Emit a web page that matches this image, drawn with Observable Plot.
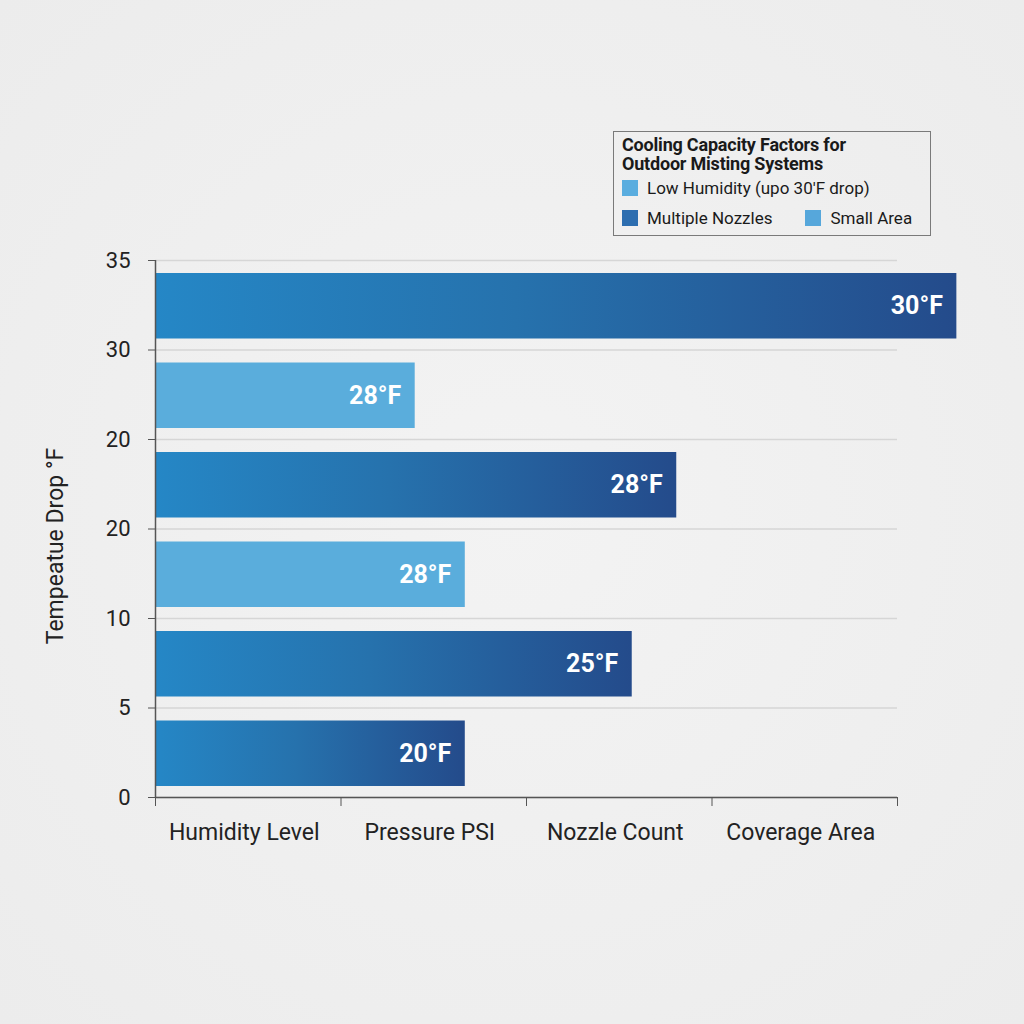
<!DOCTYPE html>
<html>
<head>
<meta charset="utf-8">
<script src="https://cdn.jsdelivr.net/npm/d3@7"></script>
<script src="https://cdn.jsdelivr.net/npm/@observablehq/plot@0.6"></script>
<style>
  html, body { margin: 0; padding: 0; background: #efefef; }
  #wrap { position: relative; width: 1024px; height: 1024px; background: radial-gradient(ellipse at center, #f3f3f3 0%, #ececec 100%); font-family: Roboto, "Noto Sans", sans-serif; }
  #legend { position: absolute; left: 613px; top: 131px; width: 318px; height: 105px; border: 1.5px solid #7a7a7a; box-sizing: border-box; padding: 3px 8px; color: #1a1a1a; }
  #legend .title { font-weight: 700; font-size: 18px; line-height: 19px; letter-spacing: -0.2px; }
  #legend .row { display: flex; align-items: center; font-size: 17px; margin-top: 5px; }
  #legend .sw { width: 16px; height: 16px; display: inline-block; margin-right: 9px; }
  #legend .item { display: inline-flex; align-items: center; }
</style>
</head>
<body>
<div id="wrap"><div id="chart"></div><div id="legend"></div></div>
<script>
// ---- data ----
const categories = ["Humidity Level", "Pressure PSI", "Nozzle Count", "Coverage Area"];
const yTickLabels = ["0", "5", "10", "20", "20", "30", "35"];
const barLabels = ["30°F", "28°F", "28°F", "28°F", "25°F", "20°F"];
const barLengths = [4.32, 1.40, 2.81, 1.67, 2.57, 1.67];
const barKinds = ["dark", "light", "dark", "light", "dark", "dark"];
const barSlots = [5, 4, 3, 2, 1, 0];
const legendTitle = "Cooling Capacity Factors for Outdoor Misting Systems";
const legendItems = [
  {label: "Low Humidity (upo 30'F drop)", color: "#5aaddf"},
  {label: "Multiple Nozzles", color: "#2d6eb0"},
  {label: "Small Area", color: "#56a7db"}
];

const bars = barLabels.map((l, i) => ({label: l, value: barLengths[i], kind: barKinds[i], slot: barSlots[i]}));

const defs = () => {
  const d = d3.create("svg:defs");
  const g = d.append("linearGradient").attr("id", "darkGrad").attr("x1", "0").attr("x2", "1").attr("y1", "0").attr("y2", "0");
  g.append("stop").attr("offset", "0%").attr("stop-color", "#2587c6");
  g.append("stop").attr("offset", "45%").attr("stop-color", "#2672ad");
  g.append("stop").attr("offset", "100%").attr("stop-color", "#244b8b");
  return d.node();
};

const chart = Plot.plot({
  width: 1024,
  height: 1024,
  marginLeft: 155,
  marginRight: 127,
  marginTop: 260,
  marginBottom: 227,
  style: {background: "transparent", fontFamily: "Roboto, sans-serif", color: "#222"},
  x: {domain: [0, 4]},
  y: {domain: [0, 6]},
  marks: [
    defs,
    Plot.gridY({ticks: d3.range(0, 7), stroke: "#d6d6d6", strokeOpacity: 1, strokeWidth: 1.5}),
    Plot.rectX(bars, {
      x1: 0, x2: "value",
      y1: "slot", y2: d => d.slot + 1,
      insetTop: 13, insetBottom: 11,
      fill: d => d.kind === "dark" ? "url(#darkGrad)" : "#5aaddc"
    }),
    Plot.text(bars, {
      x: "value", y: d => d.slot + 0.5, dy: 1,
      text: "label", textAnchor: "end", dx: -14,
      fill: "white", fontSize: 25, fontWeight: 700
    }),
    Plot.ruleX([0], {stroke: "#555", strokeWidth: 1.5}),
    Plot.ruleY([0], {stroke: "#555", strokeWidth: 1.5}),
    Plot.axisY({ticks: d3.range(0, 7), tickFormat: i => yTickLabels[i], tickSize: 7, tickPadding: 18, fontSize: 22, stroke: "#555", label: null}),
    Plot.axisX({ticks: d3.range(0, 5), tickFormat: () => "", tickSize: 9, stroke: "#555", label: null}),
    Plot.axisX({ticks: d3.range(0, 4).map(i => i + 0.5), tickFormat: v => categories[Math.floor(v)], tickSize: 0, tickPadding: 26, fontSize: 23, dx: -4, label: null}),
    Plot.text(["Tempeatue Drop °F"], {frameAnchor: "left", textAnchor: "middle", dx: -100, dy: 17, rotate: -90, fontSize: 23, fill: "#222"})
  ]
});
document.getElementById("chart").appendChild(chart);

// legend
const leg = document.getElementById("legend");
leg.innerHTML = `<div class="title">${legendTitle.replace("for ", "for<br>")}</div>` +
  `<div class="row"><span class="item"><span class="sw" style="background:${legendItems[0].color}"></span>${legendItems[0].label}</span></div>` +
  `<div class="row" style="margin-top:10px"><span class="item"><span class="sw" style="background:${legendItems[1].color}"></span>${legendItems[1].label}</span>` +
  `<span class="item" style="margin-left:33px"><span class="sw" style="background:${legendItems[2].color}"></span>${legendItems[2].label}</span></div>`;
</script>
</body>
</html>
